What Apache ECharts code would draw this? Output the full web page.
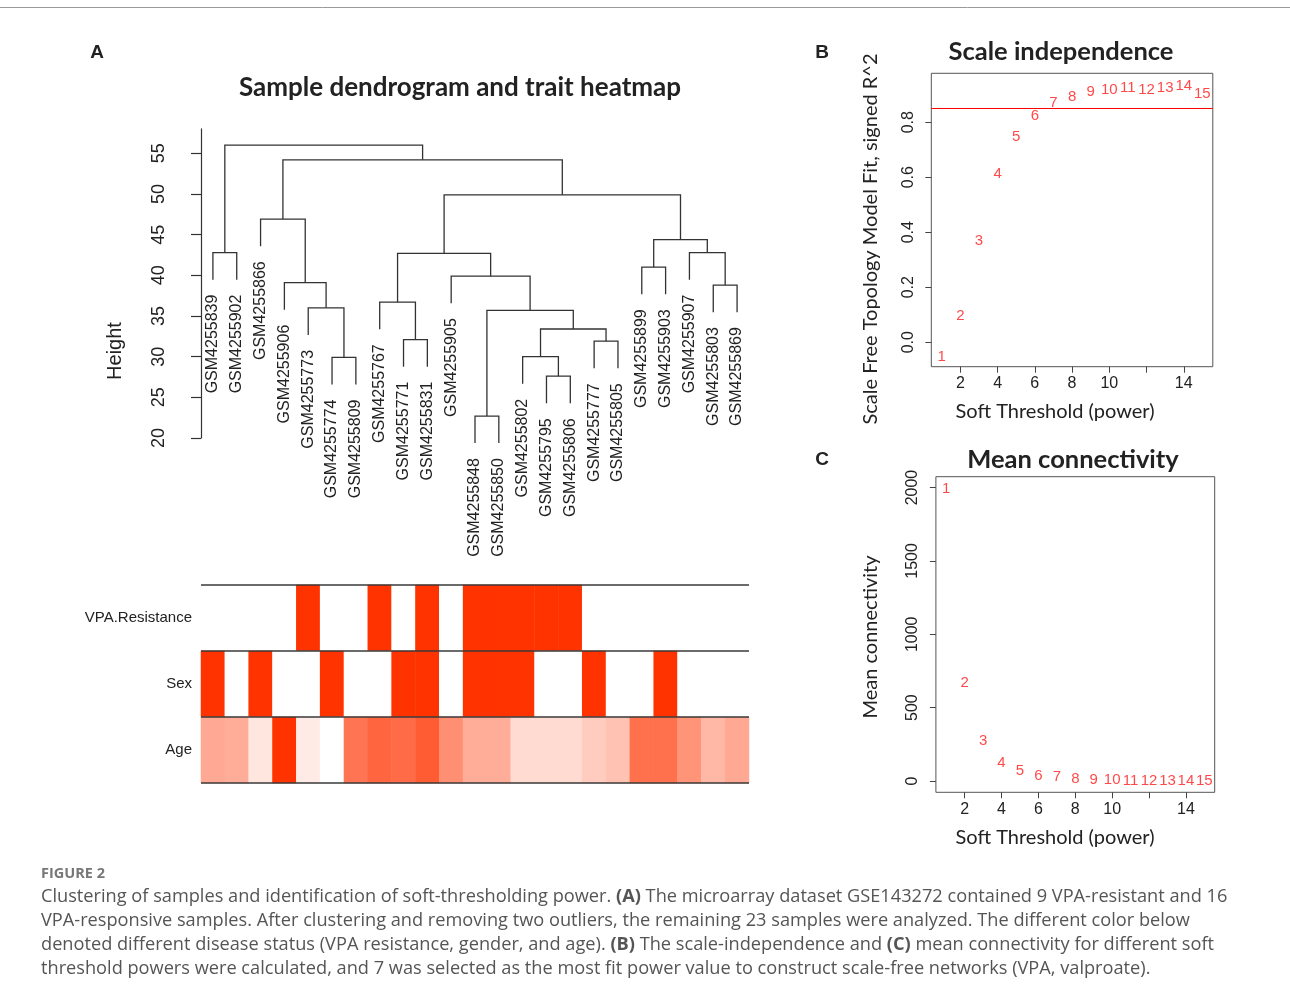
<!DOCTYPE html>
<html>
<head>
<meta charset="utf-8">
<script src="https://cdn.jsdelivr.net/npm/echarts@6/dist/echarts.min.js"></script>
<style>
html, body { margin: 0; padding: 0; background: #fff; }
#chart { width: 1290px; height: 1005px; }
</style>
</head>
<body>
<div id="chart"></div>
<script>
// leaf order of the sample tree, left to right
const samples = ['GSM4255839', 'GSM4255902', 'GSM4255866', 'GSM4255906', 'GSM4255773',
  'GSM4255774', 'GSM4255809', 'GSM4255767', 'GSM4255771', 'GSM4255831', 'GSM4255905',
  'GSM4255848', 'GSM4255850', 'GSM4255802', 'GSM4255795', 'GSM4255806', 'GSM4255777',
  'GSM4255805', 'GSM4255899', 'GSM4255903', 'GSM4255907', 'GSM4255803', 'GSM4255869'];

// hclust style merges: negative = leaf number, positive = earlier merge number
const mergeLeft = [-12, -15, -6, -14, -17, -9, 4, 1, -5, -8, -22, -4, -11, -19, 10, -1, -21, 14, -3, 15, 19, 16];
const mergeRight = [-13, -16, -7, 2, -18, -10, 5, 7, 3, 6, -23, 9, 8, -20, 13, -2, 11, 17, 12, 18, 20, 21];
const mergeHeight = [22.7, 27.6, 29.9, 30.0, 31.9, 32.1, 33.4, 35.7, 36.0, 36.7, 38.8, 39.1, 39.9, 41.0,
  42.7, 42.8, 42.8, 44.4, 46.9, 49.9, 54.2, 56.0];
const heightTicks = [20, 25, 30, 35, 40, 45, 50, 55];

// traits, in leaf order
const traitRows = ['Age', 'Sex', 'VPA.Resistance'];
const vpaResistance = [0, 0, 0, 0, 1, 0, 0, 1, 0, 1, 0, 1, 1, 1, 1, 1, 0, 0, 0, 0, 0, 0, 0];
const sex = [1, 0, 1, 0, 0, 1, 0, 0, 1, 1, 0, 1, 1, 1, 0, 0, 1, 0, 0, 1, 0, 0, 0];
const age = [35, 34, 23, 58, 22, 18, 45, 48, 47, 50, 40, 34, 34, 25, 25, 25, 28, 30, 46, 46, 39, 32, 35];

// soft threshold
const powers = [1, 2, 3, 4, 5, 6, 7, 8, 9, 10, 11, 12, 13, 14, 15];
const scaleFreeR2 = [-0.055, 0.097, 0.368, 0.611, 0.747, 0.823, 0.871, 0.892, 0.909, 0.917, 0.924, 0.917, 0.925, 0.932, 0.903];
const meanConnectivity = [1988, 668, 277, 125, 66, 36, 25, 14, 7, 5, 4, 3.5, 3, 2.5, 2];
const r2Cutoff = 0.85;
const powerTicks = [2, 4, 6, 8, 10, 12, 14];
const powerLabels = [2, 4, 6, 8, 10, 14];
const r2Ticks = [0, 0.2, 0.4, 0.6, 0.8];
const kTicks = [0, 500, 1000, 1500, 2000];

// build dendrogram segments
const hang = 0.1 * (Math.max(...mergeHeight) - Math.min(...mergeHeight));
const nodeX = [];
const dendroSegs = [];
const leafEnds = [];
function childPos(ref, h) {
  if (ref < 0) {
    const p = [-ref - 0.5, h - hang];
    leafEnds[-ref - 1] = p;
    return p;
  }
  return [nodeX[ref - 1], mergeHeight[ref - 1]];
}
mergeHeight.forEach(function (h, k) {
  const a = childPos(mergeLeft[k], h);
  const b = childPos(mergeRight[k], h);
  nodeX[k] = (a[0] + b[0]) / 2;
  dendroSegs.push([a[0], a[1], b[0], b[1], h]);
});

const RFONT = '"Liberation Sans", Arial, sans-serif';
const TFONT = 'Lato, "Open Sans", sans-serif';
const CFONT = '"Open Sans", Lato, sans-serif';
const ink = '#222';
const red = '#FF3300';

function textEl(x, y, text, font, opts) {
  return Object.assign({
    type: 'text', x: x, y: y, silent: true,
    style: { text: text, font: font, fill: ink, align: 'center', verticalAlign: 'middle' }
  }, opts || {});
}

const capRich = {
  n: { font: '18.2px ' + CFONT, fill: '#555' },
  b: { font: 'bold 18.2px ' + CFONT, fill: '#555' }
};
const captionLines = [
  '{n|Clustering of samples and identification of soft-thresholding power. }{b|(A)}{n| The microarray dataset GSE143272 contained 9 VPA-resistant and 16}',
  '{n|VPA-responsive samples. After clustering and removing two outliers, the remaining 23 samples were analyzed. The different color below}',
  '{n|denoted different disease status (VPA resistance, gender, and age). }{b|(B)}{n| The scale-independence and }{b|(C)}{n| mean connectivity for different soft}',
  '{n|threshold powers were calculated, and 7 was selected as the most fit power value to construct scale-free networks (VPA, valproate).}'
];

const graphics = [
  { type: 'line', shape: { x1: 0, y1: 7.5, x2: 1290, y2: 7.5 }, style: { stroke: '#999', lineWidth: 1 }, silent: true },
  textEl(97, 53, 'A', 'bold 19px ' + RFONT),
  textEl(822, 53, 'B', 'bold 19px ' + RFONT),
  textEl(822, 460, 'C', 'bold 19px ' + RFONT),
  textEl(460, 88, 'Sample dendrogram and trait heatmap', 'bold 26px ' + TFONT, {}),
  textEl(115, 351, 'Height', '20px ' + RFONT, { rotation: Math.PI / 2 }),
  textEl(1061, 52, 'Scale independence', 'bold 25.5px ' + TFONT),
  textEl(871, 239, 'Scale Free Topology Model Fit, signed R^2', '20px ' + TFONT, { rotation: Math.PI / 2 }),
  textEl(1055, 412, 'Soft Threshold (power)', '20px ' + TFONT),
  textEl(1073, 460, 'Mean connectivity', 'bold 25.5px ' + TFONT),
  textEl(871, 637, 'Mean connectivity', '20px ' + TFONT, { rotation: Math.PI / 2 }),
  textEl(1055, 838, 'Soft Threshold (power)', '20px ' + TFONT),
  {
    type: 'text', x: 41, y: 874, silent: true,
    style: { text: 'FIGURE 2', font: 'bold 14.5px ' + CFONT, fill: '#777', align: 'left', verticalAlign: 'middle' }
  }
];
captionLines.forEach(function (line, i) {
  graphics.push({
    type: 'text', x: 41, y: 897 + i * 24, silent: true,
    style: { text: line, rich: capRich, align: 'left', verticalAlign: 'middle' }
  });
});

function scatterLabels(xi, yi, values) {
  return {
    type: 'scatter', xAxisIndex: xi, yAxisIndex: yi,
    data: powers.map(function (p, i) { return [p, values[i]]; }),
    symbolSize: 2, itemStyle: { color: 'rgba(0,0,0,0)' }, silent: true, z: 4,
    label: {
      show: true, position: 'inside', formatter: function (p) { return String(p.value[0]); },
      color: '#FF1A1A', fontSize: 15, fontFamily: RFONT
    },
    labelLayout: { hideOverlap: false }
  };
}

function frameAxes(grid, yMin, yMax, yTickVals, yFmt) {
  return {
    x: {
      gridIndex: grid, type: 'value', min: 0.44, max: 15.56,
      axisLine: { show: false, onZero: false }, splitLine: { show: false },
      axisTick: { show: true, customValues: powerTicks, length: 6, lineStyle: { color: '#444' } },
      axisLabel: { customValues: powerLabels, margin: 9, fontSize: 16, fontFamily: RFONT, color: ink }
    },
    y: {
      gridIndex: grid, type: 'value', min: yMin, max: yMax,
      axisLine: { show: false, onZero: false }, splitLine: { show: false },
      axisTick: { show: true, customValues: yTickVals, length: 6, lineStyle: { color: '#444' } },
      axisLabel: {
        customValues: yTickVals, rotate: 90, margin: 15, fontSize: 16,
        fontFamily: '"Liberation Sans Narrow", ' + RFONT, color: ink, formatter: yFmt
      }
    }
  };
}
const axB = frameAxes(2, -0.089, 0.978, r2Ticks, function (v) { return v.toFixed(1); });
const axC = frameAxes(3, -77, 2074, kTicks, function (v) { return String(v); });

const option = {
  animation: false,
  backgroundColor: '#fff',
  graphic: { elements: graphics },
  grid: [
    { left: 201, width: 548, top: 128.9, height: 309.1 },
    { left: 201, width: 548, top: 585, height: 198 },
    { left: 931.3, width: 281.5, top: 73.3, height: 293.4, show: true, borderColor: '#555', borderWidth: 1 },
    { left: 935.9, width: 278.8, top: 476.7, height: 315.6, show: true, borderColor: '#555', borderWidth: 1 }
  ],
  xAxis: [
    { gridIndex: 0, type: 'value', min: 0, max: samples.length, show: false },
    { gridIndex: 1, type: 'category', data: samples, show: false },
    axB.x, axC.x
  ],
  yAxis: [
    {
      gridIndex: 0, type: 'value', min: 20, max: 58, offset: 9,
      axisLine: { show: true, lineStyle: { color: '#333', width: 1.2 } },
      axisTick: { show: true, customValues: heightTicks, length: 10, lineStyle: { color: '#333', width: 1.2 } },
      axisLabel: { customValues: heightTicks, rotate: 90, margin: 24, fontSize: 18, fontFamily: RFONT, color: ink },
      splitLine: { show: false }
    },
    {
      gridIndex: 1, type: 'category', data: traitRows,
      axisLine: { show: false }, axisTick: { show: false }, splitLine: { show: false },
      axisLabel: { margin: 9, fontSize: 15, fontFamily: RFONT, color: ink }
    },
    axB.y, axC.y
  ],
  visualMap: [
    { show: false, seriesIndex: 2, dimension: 2, min: 0, max: 1, inRange: { color: ['#FFFFFF', red] } },
    { show: false, seriesIndex: 3, dimension: 2, min: 0, max: 1, inRange: { color: ['#FFFFFF', red] } },
    { show: false, seriesIndex: 4, dimension: 2, min: Math.min(...age), max: Math.max(...age), inRange: { color: ['#FFFFFF', red] } }
  ],
  series: [
    {
      type: 'custom', xAxisIndex: 0, yAxisIndex: 0, silent: true,
      data: dendroSegs,
      renderItem: function (params, api) {
        const p1 = api.coord([api.value(0), api.value(1)]);
        const p2 = api.coord([api.value(0), api.value(4)]);
        const p3 = api.coord([api.value(2), api.value(4)]);
        const p4 = api.coord([api.value(2), api.value(3)]);
        return {
          type: 'polyline', shape: { points: [p1, p2, p3, p4] },
          style: { stroke: '#333', lineWidth: 1.3, fill: null }
        };
      }
    },
    {
      type: 'custom', xAxisIndex: 0, yAxisIndex: 0, silent: true,
      data: leafEnds,
      renderItem: function (params, api) {
        const p = api.coord([api.value(0), api.value(1)]);
        return {
          type: 'text', x: p[0], y: p[1] + 15, rotation: Math.PI / 2,
          style: { text: samples[params.dataIndex], font: '16px ' + RFONT, fill: ink, align: 'right', verticalAlign: 'middle' }
        };
      }
    },
    {
      type: 'heatmap', xAxisIndex: 1, yAxisIndex: 1, silent: true,
      data: vpaResistance.map(function (v, i) { return [i, 2, v]; })
    },
    {
      type: 'heatmap', xAxisIndex: 1, yAxisIndex: 1, silent: true,
      data: sex.map(function (v, i) { return [i, 1, v]; })
    },
    {
      type: 'heatmap', xAxisIndex: 1, yAxisIndex: 1, silent: true,
      data: age.map(function (v, i) { return [i, 0, v]; })
    },
    {
      // row separators of the trait heatmap
      type: 'custom', xAxisIndex: 1, yAxisIndex: 1, silent: true, z: 5,
      data: traitRows.map(function (r, i) { return [0, i]; }),
      renderItem: function (params, api) {
        const c = api.coord([0, api.value(1)]);
        const bw = api.size([1, 0])[0];
        const bh = api.size([0, 1])[1];
        const x0 = c[0] - bw / 2;
        const x1 = api.coord([samples.length - 1, 0])[0] + bw / 2;
        const yTop = c[1] - bh / 2;
        const children = [{
          type: 'line', shape: { x1: x0, y1: yTop, x2: x1, y2: yTop },
          style: { stroke: '#3a3a3a', lineWidth: 1.5 }
        }];
        if (params.dataIndex === 0) {
          children.push({
            type: 'line', shape: { x1: x0, y1: yTop + bh, x2: x1, y2: yTop + bh },
            style: { stroke: '#3a3a3a', lineWidth: 1.5 }
          });
        }
        return { type: 'group', children: children };
      }
    },
    Object.assign(scatterLabels(2, 2, scaleFreeR2), {
      markLine: {
        silent: true, symbol: 'none', label: { show: false },
        lineStyle: { color: '#FF0000', width: 1, type: 'solid' },
        data: [{ yAxis: r2Cutoff }]
      }
    }),
    scatterLabels(3, 3, meanConnectivity)
  ]
};

const chart = echarts.init(document.getElementById('chart'));
chart.setOption(option);
</script>
</body>
</html>
